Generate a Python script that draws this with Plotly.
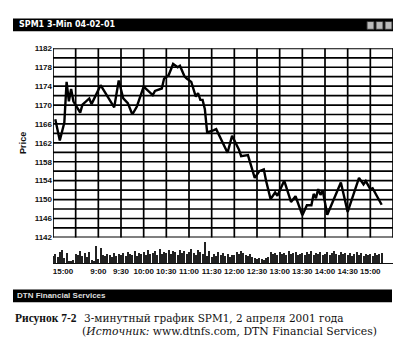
import plotly.graph_objects as go

# ---- data ----
bar_idx = [1, 3, 5, 6, 7, 8, 9, 12, 13, 16, 17, 21, 27, 29, 31, 33, 35, 37, 40, 44, 45, 48, 49,
           51, 53, 55, 56, 58, 59, 61, 63, 64, 65, 66, 67, 68, 71, 72, 77, 79, 82, 83, 86, 89,
           91, 93, 94, 96, 98, 99, 102, 105, 107, 110, 112, 114, 115, 116, 117, 118, 119, 121,
           127, 130, 135, 137, 138, 140, 141, 143, 145]
price = [1167.0, 1162.5, 1166.3, 1174.9, 1170.8, 1173.4, 1170.8, 1168.4, 1170.1, 1171.4, 1170.2,
         1174.2, 1169.5, 1175.2, 1171.4, 1170.4, 1168.0, 1169.7, 1173.9, 1172.1, 1173.0, 1173.5,
         1175.6, 1176.3, 1178.7, 1178.0, 1178.3, 1176.1, 1175.6, 1174.9, 1171.8, 1172.5, 1171.1,
         1171.1, 1169.1, 1164.2, 1164.7, 1164.9, 1159.9, 1163.5, 1160.6, 1159.2, 1159.4, 1154.6,
         1156.0, 1156.4, 1154.0, 1150.1, 1151.5, 1150.8, 1154.0, 1149.5, 1150.7, 1146.7, 1148.8,
         1148.8, 1151.2, 1150.3, 1152.2, 1151.0, 1151.9, 1146.8, 1153.6, 1147.4, 1154.6, 1153.2,
         1153.9, 1152.2, 1152.4, 1150.5, 1148.9]

volume = [8, 10, 7, 12, 14, 6, 11, 3, 2, 4,
          10, 9, 13, 8, 11, 7, 12, 4, 3, 18,
          5, 16, 9, 8, 10, 9, 7, 11, 8, 10,
          9, 11, 8, 12, 10, 9, 13, 8, 11, 10,
          12, 9, 14, 10, 11, 13, 9, 15, 10, 12,
          11, 14, 10, 13, 12, 9, 14, 11, 13, 10,
          12, 15, 11, 9, 14, 12, 10, 22, 8, 13,
          7, 10, 8, 12, 9, 11, 8, 10, 7, 9,
          9, 12, 10, 13, 11, 9, 8, 10, 7, 6,
          5, 6, 5, 4, 6, 7, 12, 10, 11, 9,
          12, 10, 11, 9, 13, 10, 11, 12, 9, 10,
          11, 9, 12, 10, 13, 9, 11, 10, 12, 9,
          10, 12, 9, 11, 13, 10, 9, 12, 10, 11,
          9, 11, 8, 10, 12, 9, 11, 8, 10, 9,
          10, 8, 11, 9, 10, 11]
volume_idx = list(range(len(volume)))

time_ticks = [4.4, 20, 30, 40, 50, 60, 70, 80, 90, 100, 110, 120, 130, 140]
time_labels = ["15:00", "9:00", "9:30", "10:00", "10:30", "11:00", "11:30", "12:00",
               "12:30", "13:00", "13:30", "14:00", "14:30", "15:00"]
grid_x = list(range(0, 151, 10))
grid_y = list(range(1142, 1183, 2))
price_ticks = list(range(1142, 1183, 4))
x_min, x_max = 0, 150
y_min, y_max = 1142, 1182

W, H = 406, 352
def px(x):
    return x / W
def py(y):
    return 1 - y / H

gridc = "#000000"
fig = go.Figure()

# vertical grid lines (from the tick array), with small ticks below the panel
vx, vy = [], []
for gx in grid_x:
    vx += [gx, gx, None]
    vy += [y_min - 0.8, y_max, None]
fig.add_trace(go.Scatter(x=vx, y=vy, mode="lines", line=dict(color=gridc, width=1.7),
                         xaxis="x", yaxis="y", hoverinfo="skip", cliponaxis=False))
# horizontal grid lines
hx, hy = [], []
for gy in grid_y:
    hx += [x_min, x_max, None]
    hy += [gy, gy, None]
fig.add_trace(go.Scatter(x=hx, y=hy, mode="lines", line=dict(color=gridc, width=1.7),
                         xaxis="x", yaxis="y", hoverinfo="skip", cliponaxis=False))

fig.add_trace(go.Scatter(x=bar_idx, y=price, mode="lines",
                         line=dict(color="#000", width=2.4), xaxis="x", yaxis="y",
                         hoverinfo="skip"))
fig.add_trace(go.Bar(x=volume_idx, y=volume, width=0.45, marker=dict(color="#222", line_width=0),
                     xaxis="x2", yaxis="y2", hoverinfo="skip"))

axfont = dict(family="Liberation Sans, Arial", size=8, color="#111", weight="bold")
fig.update_layout(
    width=W, height=H, margin=dict(l=0, r=0, t=0, b=0),
    paper_bgcolor="white", plot_bgcolor="white", showlegend=False,
    xaxis=dict(domain=[px(53), px(393)], range=[x_min, x_max], showticklabels=False,
               ticks="", showgrid=False, showline=False, zeroline=False, anchor="y"),
    yaxis=dict(domain=[py(239.5), py(45.5)], range=[y_min, y_max], tickvals=price_ticks,
               tickfont=axfont, ticks="", showgrid=False, showline=False, zeroline=False,
               anchor="x", title=dict(text="Price", font=dict(family="Liberation Sans, Arial",
                                                             size=9, color="#111", weight="bold"),
                                      standoff=6)),
    xaxis2=dict(domain=[px(53), px(393)], range=[x_min, x_max], tickvals=time_ticks,
                ticktext=time_labels, tickfont=axfont, tickangle=0, ticks="", showgrid=False,
                showline=True, linecolor="#111", linewidth=1.2, zeroline=False, anchor="y2"),
    yaxis2=dict(domain=[py(266), py(244)], range=[0, 22], showticklabels=False, showgrid=False,
                zeroline=False, showline=False, anchor="x2"),
    bargap=0,
)

shapes = [
    # title bar
    dict(type="rect", xref="paper", yref="paper", x0=px(13), x1=px(393), y0=py(28), y1=py(15),
         fillcolor="black", line_width=0),
    # bottom bar
    dict(type="rect", xref="paper", yref="paper", x0=px(13), x1=px(392), y0=py(306), y1=py(293),
         fillcolor="black", line_width=0),
]
for bx in (367, 376, 385):
    shapes.append(dict(type="rect", xref="paper", yref="paper", x0=px(bx), x1=px(bx + 7),
                       y0=py(26), y1=py(18), fillcolor="#bbb", line=dict(color="#333", width=1)))
fig.update_layout(shapes=shapes)

serif = "DejaVu Serif"
ann = [
    dict(text="SPM1 3-Min 04-02-01", x=px(17), y=py(21.5), xref="paper", yref="paper",
         xanchor="left", yanchor="middle", showarrow=False,
         font=dict(family="DejaVu Sans", size=8, color="white", weight="bold")),
    dict(text="DTN Financial Services", x=px(15), y=py(299.5), xref="paper", yref="paper",
         xanchor="left", yanchor="middle", showarrow=False,
         font=dict(family="Liberation Sans", size=8, color="#ddd", weight="bold")),
    dict(text="<b>Рисунок 7-2</b>", x=px(13), y=py(322.5), xref="paper", yref="paper",
         xanchor="left", yanchor="middle", showarrow=False,
         font=dict(family="Liberation Serif", size=11.5, color="#111")),
    dict(text="3-минутный график SPM1, 2 апреля 2001 года", x=px(82), y=py(322.5),
         xref="paper", yref="paper", xanchor="left", yanchor="middle", showarrow=False,
         font=dict(family=serif, size=10.5, color="#111")),
    dict(text="(<i>Источник:</i> www.dtnfs.com, DTN Financial Services)", x=px(80), y=py(336.5),
         xref="paper", yref="paper", xanchor="left", yanchor="middle", showarrow=False,
         font=dict(family=serif, size=10.8, color="#111")),
]
fig.update_layout(annotations=ann)

fig.write_html("out.html")
